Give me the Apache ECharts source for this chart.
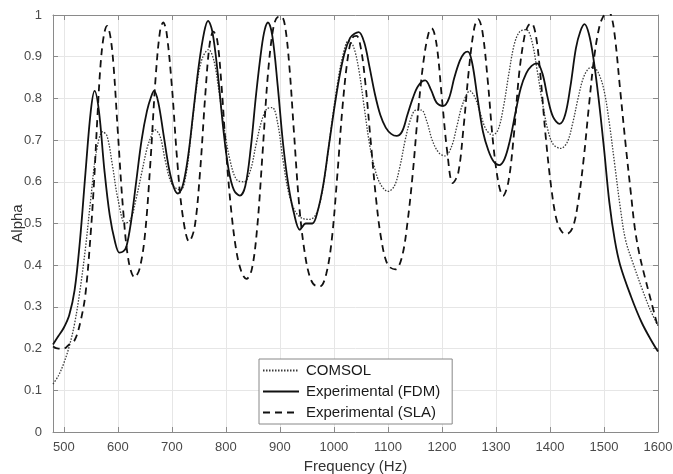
<!DOCTYPE html>
<html>
<head>
<meta charset="utf-8">
<title>Alpha vs Frequency</title>
<script src="https://cdn.jsdelivr.net/npm/echarts@6/dist/echarts.min.js"></script>
<style>
  html, body { margin: 0; padding: 0; background: #fff; }
  #main { width: 673px; height: 474px; }
</style>
</head>
<body>
<div id="main"></div>
<script>
// COMSOL (dotted)
var comsolFreq  = [480, 490, 500, 510, 520, 530, 540, 550, 560, 572, 580, 590, 600, 614, 624, 634, 644, 654, 662, 668, 678, 688, 700, 716, 726, 736, 746, 756, 768, 778, 788, 798, 808, 820, 834, 846, 856, 866, 876, 886, 896, 906, 916, 928, 942, 955, 966, 976, 986, 996, 1006, 1016, 1027, 1036, 1046, 1056, 1066, 1076, 1086, 1100, 1112, 1122, 1132, 1142, 1152, 1162, 1172, 1182, 1194, 1206, 1218, 1228, 1238, 1252, 1262, 1272, 1282, 1294, 1304, 1314, 1324, 1334, 1344, 1356, 1366, 1376, 1386, 1396, 1406, 1420, 1432, 1442, 1452, 1462, 1472, 1480, 1490, 1500, 1510, 1520, 1530, 1540, 1555, 1570, 1585, 1600];
var comsolAlpha = [0.115, 0.135, 0.165, 0.205, 0.26, 0.34, 0.44, 0.56, 0.67, 0.72, 0.71, 0.64, 0.56, 0.50, 0.51, 0.56, 0.62, 0.68, 0.71, 0.725, 0.71, 0.65, 0.595, 0.58, 0.615, 0.72, 0.83, 0.895, 0.917, 0.89, 0.81, 0.72, 0.65, 0.605, 0.60, 0.63, 0.69, 0.745, 0.775, 0.778, 0.74, 0.65, 0.575, 0.53, 0.512, 0.51, 0.52, 0.56, 0.64, 0.74, 0.83, 0.90, 0.938, 0.925, 0.87, 0.78, 0.69, 0.63, 0.595, 0.577, 0.59, 0.635, 0.70, 0.75, 0.772, 0.772, 0.745, 0.70, 0.67, 0.662, 0.685, 0.735, 0.785, 0.818, 0.80, 0.76, 0.725, 0.712, 0.725, 0.78, 0.86, 0.93, 0.96, 0.965, 0.94, 0.87, 0.79, 0.725, 0.69, 0.68, 0.695, 0.74, 0.80, 0.85, 0.872, 0.875, 0.86, 0.82, 0.74, 0.64, 0.54, 0.46, 0.40, 0.345, 0.295, 0.255];

// Experimental (FDM) (solid)
var fdmFreq  = [480, 490, 500, 510, 520, 530, 540, 550, 557, 565, 575, 585, 595, 603, 610, 616, 624, 634, 644, 654, 662, 667, 675, 685, 695, 704, 711, 720, 730, 740, 750, 760, 767, 775, 785, 795, 805, 815, 826, 836, 846, 856, 866, 872, 878, 886, 896, 906, 916, 926, 937, 948, 960, 970, 980, 990, 1000, 1010, 1020, 1030, 1038, 1046, 1056, 1066, 1076, 1086, 1096, 1106, 1116, 1126, 1136, 1146, 1156, 1169, 1180, 1190, 1203, 1213, 1223, 1233, 1241, 1248, 1256, 1266, 1276, 1286, 1296, 1306, 1316, 1326, 1336, 1346, 1356, 1366, 1376, 1386, 1396, 1406, 1418, 1428, 1438, 1448, 1456, 1464, 1472, 1480, 1490, 1500, 1510, 1520, 1530, 1550, 1570, 1590, 1600];
var fdmAlpha = [0.21, 0.23, 0.25, 0.28, 0.34, 0.46, 0.62, 0.77, 0.818, 0.77, 0.63, 0.52, 0.455, 0.43, 0.433, 0.445, 0.50, 0.60, 0.70, 0.77, 0.805, 0.818, 0.79, 0.71, 0.63, 0.585, 0.572, 0.59, 0.66, 0.77, 0.88, 0.96, 0.986, 0.96, 0.86, 0.73, 0.63, 0.58, 0.567, 0.59, 0.68, 0.81, 0.92, 0.965, 0.982, 0.95, 0.83, 0.69, 0.59, 0.525, 0.485, 0.50, 0.50, 0.53, 0.59, 0.68, 0.77, 0.85, 0.91, 0.945, 0.955, 0.959, 0.935, 0.875, 0.81, 0.76, 0.73, 0.715, 0.71, 0.72, 0.76, 0.80, 0.83, 0.843, 0.82, 0.79, 0.782, 0.80, 0.85, 0.89, 0.908, 0.912, 0.885, 0.80, 0.72, 0.675, 0.648, 0.64, 0.655, 0.70, 0.765, 0.825, 0.86, 0.878, 0.884, 0.86, 0.80, 0.755, 0.739, 0.76, 0.83, 0.92, 0.96, 0.978, 0.955, 0.90, 0.80, 0.68, 0.55, 0.46, 0.40, 0.325, 0.262, 0.214, 0.193];

// Experimental (SLA) (dashed)
var slaFreq  = [480, 490, 500, 510, 520, 530, 540, 550, 556, 562, 568, 574, 580, 586, 592, 600, 610, 620, 631, 640, 650, 660, 670, 678, 684, 690, 700, 710, 720, 732, 742, 752, 762, 770, 777, 784, 792, 800, 810, 820, 830, 838, 848, 858, 868, 878, 888, 896, 903, 910, 918, 926, 936, 946, 956, 966, 975, 986, 996, 1006, 1016, 1026, 1034, 1042, 1050, 1058, 1068, 1078, 1088, 1100, 1114, 1126, 1136, 1146, 1156, 1166, 1175, 1181, 1190, 1200, 1210, 1220, 1230, 1240, 1250, 1260, 1267, 1275, 1285, 1295, 1305, 1313, 1323, 1333, 1343, 1353, 1360, 1366, 1374, 1382, 1392, 1402, 1412, 1422, 1431, 1442, 1452, 1462, 1472, 1482, 1492, 1500, 1506, 1513, 1520, 1530, 1540, 1550, 1557, 1565, 1575, 1587, 1600];
var slaAlpha = [0.205, 0.20, 0.20, 0.21, 0.22, 0.26, 0.33, 0.48, 0.60, 0.75, 0.88, 0.95, 0.974, 0.95, 0.88, 0.72, 0.53, 0.41, 0.371, 0.39, 0.47, 0.64, 0.85, 0.96, 0.982, 0.96, 0.83, 0.65, 0.52, 0.457, 0.49, 0.62, 0.81, 0.93, 0.96, 0.94, 0.83, 0.68, 0.53, 0.43, 0.38, 0.367, 0.39, 0.49, 0.67, 0.86, 0.97, 0.995, 0.996, 0.97, 0.87, 0.72, 0.54, 0.43, 0.37, 0.351, 0.35, 0.38, 0.46, 0.61, 0.78, 0.90, 0.945, 0.95, 0.92, 0.84, 0.70, 0.56, 0.46, 0.40, 0.39, 0.42, 0.50, 0.62, 0.77, 0.89, 0.955, 0.968, 0.93, 0.80, 0.67, 0.597, 0.62, 0.73, 0.87, 0.97, 0.99, 0.96, 0.84, 0.69, 0.595, 0.566, 0.60, 0.71, 0.86, 0.95, 0.975, 0.98, 0.95, 0.86, 0.71, 0.59, 0.51, 0.48, 0.475, 0.49, 0.55, 0.65, 0.78, 0.90, 0.975, 1.0, 1.01, 1.0, 0.95, 0.82, 0.69, 0.57, 0.49, 0.43, 0.375, 0.315, 0.25];

var seriesNames = ['COMSOL', 'Experimental (FDM)', 'Experimental (SLA)'];
var xTicks = [500, 600, 700, 800, 900, 1000, 1100, 1200, 1300, 1400, 1500, 1600];

function pairs(xs, ys) {
    var out = [];
    for (var i = 0; i < xs.length; i++) {
        out.push([xs[i], ys[i]]);
    }
    return out;
}

var chart = echarts.init(document.getElementById('main'), null, { renderer: 'canvas' });
var font = '"Liberation Sans", Arial, sans-serif';
var axisGray = '#8a8a8a';
var gridGray = '#e6e6e6';

var option = {
    backgroundColor: '#fff',
    animation: false,
    textStyle: { fontFamily: font },
    grid: {
        left: 53, right: 15, top: 15, bottom: 42,
        containLabel: false,
        outerBoundsMode: 'none'
    },
    legend: {
        data: seriesNames,
        orient: 'vertical',
        left: 259,
        top: 359,
        itemWidth: 36,
        itemHeight: 14,
        itemGap: 6,
        padding: [4, 12, 4, 3],
        backgroundColor: '#fff',
        borderColor: '#888',
        borderWidth: 1,
        borderRadius: 0,
        selectedMode: false,
        itemStyle: { color: 'rgba(0,0,0,0)', borderWidth: 0, opacity: 0 },
        textStyle: { fontFamily: font, fontSize: 15, color: '#1a1a1a', padding: [0, 0, 0, 2] }
    },
    xAxis: [{
        type: 'value',
        min: 480,
        max: 1600,
        name: 'Frequency (Hz)',
        nameLocation: 'middle',
        nameGap: 27,
        nameMoveOverlap: false,
        nameTextStyle: { fontFamily: font, fontSize: 15, color: '#333' },
        axisLine: { show: true, lineStyle: { color: axisGray, width: 1 } },
        axisTick: { show: true, inside: true, length: 5, customValues: xTicks, lineStyle: { color: axisGray } },
        axisLabel: {
            customValues: xTicks, fontFamily: font, fontSize: 13, color: '#4a4a4a', margin: 9,
            formatter: function (v) { return String(v); }
        },
        splitLine: { show: true, customValues: xTicks, lineStyle: { color: gridGray, width: 1 } }
    }, {
        type: 'value',
        position: 'top',
        min: 480,
        max: 1600,
        axisLine: { show: true, onZero: false, lineStyle: { color: axisGray, width: 1 } },
        axisTick: { show: true, inside: true, length: 5, customValues: xTicks, lineStyle: { color: axisGray } },
        axisLabel: { show: false },
        splitLine: { show: false }
    }],
    yAxis: [{
        type: 'value',
        min: 0,
        max: 1,
        interval: 0.1,
        name: 'Alpha',
        nameLocation: 'middle',
        nameGap: 28,
        nameMoveOverlap: false,
        nameTextStyle: { fontFamily: font, fontSize: 15, color: '#333' },
        axisLine: { show: true, lineStyle: { color: axisGray, width: 1 } },
        axisTick: { show: true, inside: true, length: 5, lineStyle: { color: axisGray } },
        axisLabel: { fontFamily: font, fontSize: 13, color: '#4a4a4a', margin: 11 },
        splitLine: { show: true, lineStyle: { color: gridGray, width: 1 } }
    }, {
        type: 'value',
        position: 'right',
        min: 0,
        max: 1,
        interval: 0.1,
        axisLine: { show: true, onZero: false, lineStyle: { color: axisGray, width: 1 } },
        axisTick: { show: true, inside: true, length: 5, lineStyle: { color: axisGray } },
        axisLabel: { show: false },
        splitLine: { show: false }
    }],
    series: [{
        name: seriesNames[0],
        type: 'line',
        data: pairs(comsolFreq, comsolAlpha),
        showSymbol: false,
        symbol: 'none',
        smooth: 0.35,
        clip: true,
        lineStyle: { color: '#3a3a3a', width: 1.3, type: [1.5, 1.5] },
        itemStyle: { color: '#3a3a3a' },
        z: 3
    }, {
        name: seriesNames[1],
        type: 'line',
        data: pairs(fdmFreq, fdmAlpha),
        showSymbol: false,
        symbol: 'none',
        smooth: 0.35,
        clip: true,
        lineStyle: { color: '#111', width: 1.8, type: 'solid' },
        itemStyle: { color: '#111' },
        z: 4
    }, {
        name: seriesNames[2],
        type: 'line',
        data: pairs(slaFreq, slaAlpha),
        showSymbol: false,
        symbol: 'none',
        smooth: 0.35,
        clip: true,
        lineStyle: { color: '#111', width: 1.8, type: [7, 5] },
        itemStyle: { color: '#111' },
        z: 5
    }]
};

chart.setOption(option);
</script>
</body>
</html>
